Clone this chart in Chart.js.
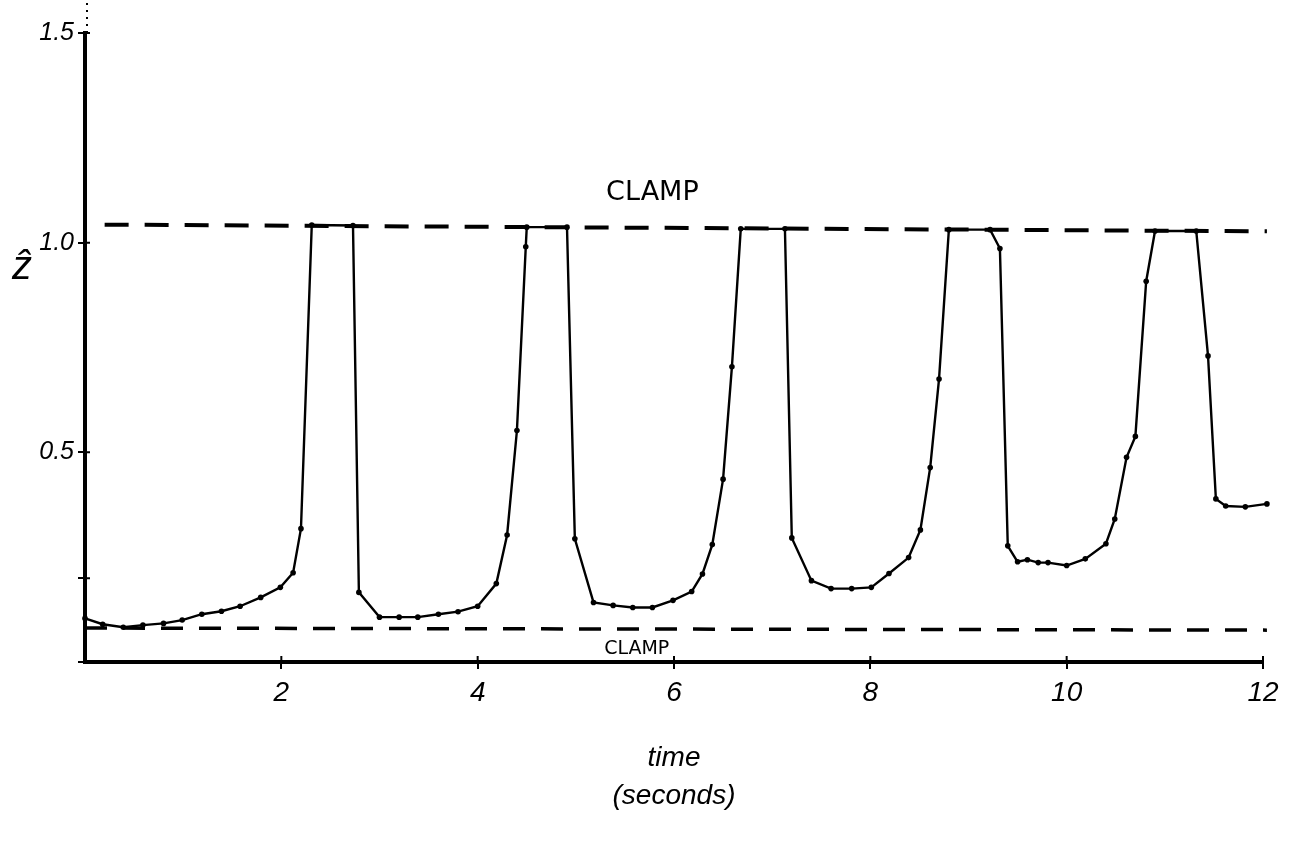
<!DOCTYPE html>
<html>
<head>
<meta charset="utf-8">
<script src="https://cdn.jsdelivr.net/npm/chart.js@4/dist/chart.umd.min.js"></script>
<style>
  html, body { margin: 0; padding: 0; background: #fff; overflow: hidden; }
  canvas { display: block; }
</style>
</head>
<body>
<canvas id="chart_zhat" width="1291" height="843"></canvas>
<script>
// time in seconds and the zhat value
var times = [0, 0.18, 0.39, 0.59, 0.8, 0.99, 1.19, 1.39, 1.58, 1.79, 1.99, 2.12, 2.2, 2.31, 2.73, 2.79,
    3.0, 3.2, 3.39, 3.6, 3.8, 4.0, 4.19, 4.3, 4.4, 4.49, 4.5, 4.91, 4.99, 5.18, 5.38, 5.58, 5.78,
    5.99, 6.18, 6.29, 6.39, 6.5, 6.59, 6.68, 7.13, 7.2, 7.4, 7.6, 7.81, 8.01, 8.19, 8.39, 8.51,
    8.61, 8.7, 8.8, 9.22, 9.32, 9.4, 9.5, 9.6, 9.71, 9.81, 10.0, 10.19, 10.4, 10.49, 10.61, 10.7,
    10.81, 10.9, 11.32, 11.44, 11.52, 11.62, 11.82, 12.04];
var zhat = [0.104, 0.09, 0.083, 0.088, 0.092, 0.10, 0.114, 0.121, 0.133, 0.154, 0.178, 0.213, 0.318, 1.042, 1.041, 0.166,
    0.107, 0.107, 0.107, 0.114, 0.12, 0.133, 0.187, 0.303, 0.552, 0.99, 1.037, 1.037, 0.294, 0.142, 0.135, 0.13, 0.13,
    0.147, 0.168, 0.21, 0.28, 0.436, 0.704, 1.033, 1.033, 0.296, 0.194, 0.175, 0.175, 0.178, 0.211, 0.249, 0.315,
    0.464, 0.675, 1.031, 1.031, 0.986, 0.277, 0.239, 0.244, 0.237, 0.237, 0.23, 0.246, 0.282, 0.341, 0.488, 0.538,
    0.908, 1.028, 1.028, 0.73, 0.389, 0.372, 0.37, 0.377];

// the two clamp levels (drawn a little slanted, as on the sheet)
var clamp_high_x = [0.2, 12.04];
var clamp_high_y = [1.043, 1.027];
var clamp_low_x = [0, 12.04];
var clamp_low_y = [0.081, 0.076];

var x_ticks = [2, 4, 6, 8, 10, 12];
var y_ticks = [0, 0.2, 0.5, 1.0, 1.5];
var y_tick_labels = ['', '', '0.5', '1.0', '1.5'];

var to_points = function(xs, ys) {
    return xs.map(function(x, i) { return { x: x, y: ys[i] }; });
};

var hand_font = 'Liberation Sans';

// text written on the sheet: CLAMP labels and the zhat axis name,
// plus the tick marks that cross to the inner side of both axes
var annotations = {
    id: 'annotations',
    afterDraw: function(chart) {
        var ctx = chart.ctx;
        var xs = chart.scales.x, ys = chart.scales.y;
        var area = chart.chartArea;
        ctx.save();
        ctx.strokeStyle = '#000';
        ctx.lineWidth = 2;
        ctx.beginPath();
        x_ticks.forEach(function(v) {
            var px = xs.getPixelForValue(v);
            ctx.moveTo(px, area.bottom);
            ctx.lineTo(px, area.bottom - 6);
        });
        [0.2, 0.5, 1.0, 1.5].forEach(function(v) {
            var py = ys.getPixelForValue(v);
            ctx.moveTo(area.left, py);
            ctx.lineTo(area.left + 5, py);
        });
        ctx.stroke();
        // dotted continuation of the y axis above 1.5
        ctx.setLineDash([2, 5]);
        ctx.beginPath();
        ctx.moveTo(area.left + 2, area.top);
        ctx.lineTo(area.left + 2, 0);
        ctx.stroke();
        ctx.setLineDash([]);

        ctx.fillStyle = '#000';
        ctx.textAlign = 'center';
        ctx.textBaseline = 'middle';
        ctx.font = '27px "DejaVu Sans"';
        ctx.fillText('CLAMP', xs.getPixelForValue(5.78), ys.getPixelForValue(1.118));
        ctx.font = '19px "DejaVu Sans"';
        ctx.fillText('CLAMP', xs.getPixelForValue(5.62), ys.getPixelForValue(0.03));
        ctx.font = 'italic 40px "' + hand_font + '"';
        ctx.fillText('ẑ', 22, ys.getPixelForValue(0.94));
        ctx.restore();
    }
};

var options = {
    responsive: false,
    animation: false,
    layout: { padding: { top: 33, right: 28, left: 0, bottom: 0 } },
    plugins: { legend: { display: false }, tooltip: { enabled: false } },
    scales: {
        x: {
            type: 'linear',
            min: 0,
            max: 12,
            afterBuildTicks: function(scale) {
                scale.ticks = x_ticks.map(function(v) { return { value: v }; });
            },
            afterFit: function(scale) { scale.height = 181; },
            border: { display: true, color: '#000', width: 4 },
            grid: { drawOnChartArea: false, color: '#000', lineWidth: 2, tickLength: 7 },
            ticks: {
                color: '#000',
                font: { family: hand_font, size: 28, style: 'italic' },
                padding: 7,
                maxRotation: 0,
                autoSkip: false
            },
            title: {
                display: true,
                text: ['time', '(seconds)'],
                color: '#000',
                font: { family: hand_font, size: 28, style: 'italic', lineHeight: 1.35 },
                padding: { top: 0, bottom: 28 }
            }
        },
        y: {
            type: 'linear',
            min: 0,
            max: 1.5,
            afterBuildTicks: function(scale) {
                scale.ticks = y_ticks.map(function(v) { return { value: v }; });
            },
            afterFit: function(scale) { scale.width = 85; },
            border: { display: true, color: '#000', width: 4 },
            grid: { drawOnChartArea: false, color: '#000', lineWidth: 2, tickLength: 7 },
            ticks: {
                color: '#000',
                font: { family: hand_font, size: 25, style: 'italic' },
                padding: 4,
                autoSkip: false,
                callback: function(value, index) { return y_tick_labels[index]; }
            }
        }
    }
};

var zhat_chart = new Chart(document.getElementById('chart_zhat'), {
    type: 'line',
    data: {
        datasets: [
            {
                label: 'zhat',
                data: to_points(times, zhat),
                borderColor: '#000',
                backgroundColor: '#000',
                borderWidth: 2.4,
                pointRadius: 2.8,
                pointBorderWidth: 0,
                tension: 0,
                clip: false
            },
            {
                label: 'clamp high',
                data: to_points(clamp_high_x, clamp_high_y),
                borderColor: '#000',
                borderWidth: 4,
                borderDash: [24, 16],
                pointRadius: 0,
                clip: false
            },
            {
                label: 'clamp low',
                data: to_points(clamp_low_x, clamp_low_y),
                borderColor: '#000',
                borderWidth: 3.5,
                borderDash: [22, 16],
                pointRadius: 0,
                clip: false
            }
        ]
    },
    options: options,
    plugins: [annotations]
});
</script>
</body>
</html>
